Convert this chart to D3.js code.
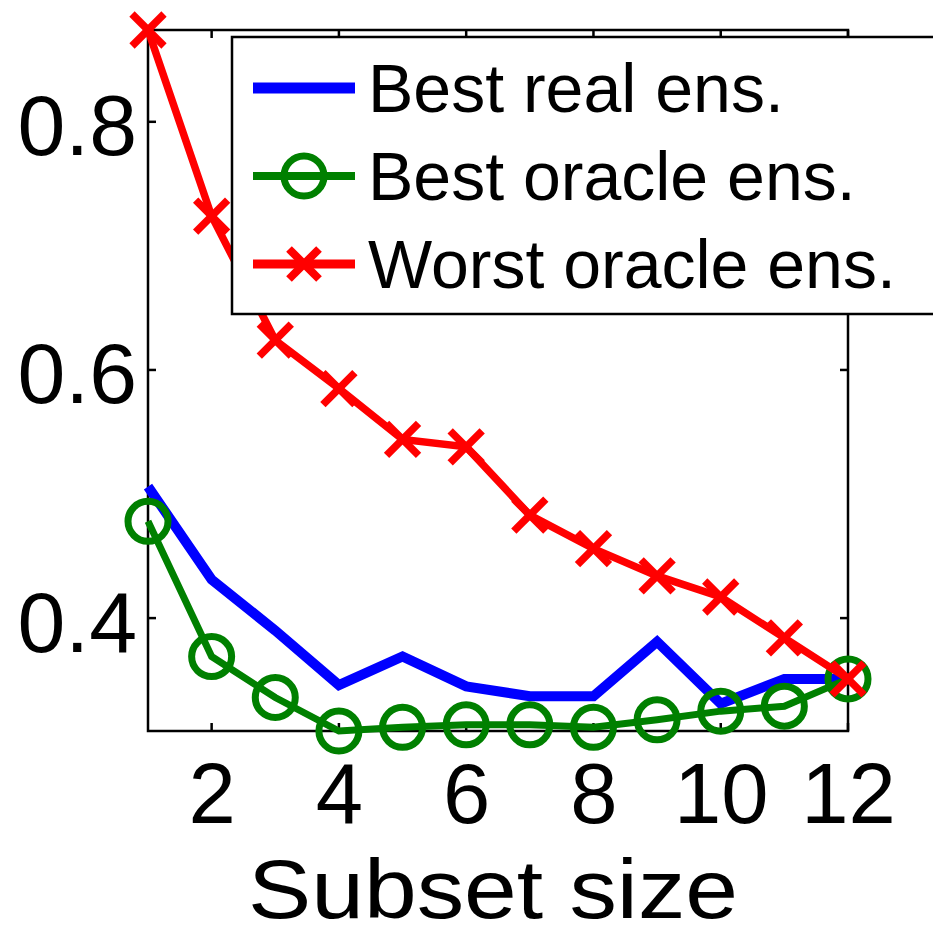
<!DOCTYPE html>
<html>
<head>
<meta charset="utf-8">
<script src="https://cdn.jsdelivr.net/npm/d3@7"></script>
<style>
  html, body { margin: 0; padding: 0; background: #fff; }
  svg { display: block; }
  text { font-family: "Liberation Sans", Arial, Helvetica, sans-serif; }
</style>
</head>
<body>
<svg id="chart" width="933" height="937"></svg>
<script>
// ---- data ----
const subsetSizes = [1, 2, 3, 4, 5, 6, 7, 8, 9, 10, 11, 12];
const bestReal    = [0.506, 0.431, 0.390, 0.346, 0.369, 0.345, 0.337, 0.337, 0.381, 0.331, 0.351, 0.351];
const bestOracle  = [0.478, 0.369, 0.336, 0.309, 0.312, 0.314, 0.314, 0.312, 0.318, 0.325, 0.329, 0.351];
const worstOracle = [0.874, 0.724, 0.624, 0.585, 0.544, 0.538, 0.483, 0.456, 0.434, 0.417, 0.384, 0.351];
const xTickValues = [2, 4, 6, 8, 10, 12];
const yTickValues = [0.4, 0.6, 0.8];
const yTickLabels = ["0.4", "0.6", "0.8"];
const seriesNames = ["Best real ens.", "Best oracle ens.", "Worst oracle ens."];
const xAxisLabel = "Subset size";

// ---- layout ----
const L = 148, R = 848, T = 30, B = 731;
const svg = d3.select("#chart");

const x = d3.scaleLinear().domain(d3.extent(subsetSizes)).range([L, R]);
const allY = bestReal.concat(bestOracle, worstOracle);
const y = d3.scaleLinear().domain(d3.extent(allY)).range([B, T]);

const axisW = 2.5;

// axes box
svg.append("rect").attr("x", L).attr("y", T).attr("width", R - L).attr("height", B - T)
  .attr("fill", "none").attr("stroke", "#000").attr("stroke-width", axisW);

// bottom axis labels
const xAxis = d3.axisBottom(x).tickValues(xTickValues).tickSize(0).tickPadding(0).tickFormat(d3.format("d"));
const gx = svg.append("g").attr("transform", `translate(0,${B})`).call(xAxis);
gx.select(".domain").remove();
gx.selectAll("text")
  .attr("dy", null).attr("y", 92)
  .attr("font-size", 85).attr("fill", "#000")
  .style("font-family", '"Liberation Sans", Arial, sans-serif');

// left axis labels
const yAxis = d3.axisLeft(y).tickValues(yTickValues).tickSize(0).tickPadding(0)
  .tickFormat((d, i) => yTickLabels[i]);
const gy = svg.append("g").attr("transform", `translate(${L},0)`).call(yAxis);
gy.select(".domain").remove();
gy.selectAll("text")
  .attr("dy", null).attr("x", -11).attr("y", 33)
  .attr("font-size", 86).attr("fill", "#000")
  .style("font-family", '"Liberation Sans", Arial, sans-serif');

// inward tick marks on all four sides
const tickLen = 8;
const gT = svg.append("g").attr("stroke", "#000").attr("stroke-width", axisW);
xTickValues.forEach(v => {
  gT.append("line").attr("x1", x(v)).attr("x2", x(v)).attr("y1", B).attr("y2", B - tickLen);
  gT.append("line").attr("x1", x(v)).attr("x2", x(v)).attr("y1", T).attr("y2", T + tickLen);
});
yTickValues.forEach(v => {
  gT.append("line").attr("x1", L).attr("x2", L + tickLen).attr("y1", y(v)).attr("y2", y(v));
  gT.append("line").attr("x1", R).attr("x2", R - tickLen).attr("y1", y(v)).attr("y2", y(v));
});

// x-axis label
svg.append("text")
  .attr("x", 493).attr("y", 918)
  .attr("text-anchor", "middle")
  .attr("font-size", 84)
  .attr("textLength", 490).attr("lengthAdjust", "spacingAndGlyphs")
  .attr("fill", "#000")
  .text(xAxisLabel);

// ---- series ----
const line = d3.line().x((d, i) => x(subsetSizes[i])).y(d => y(d));
const blue = "#0000ff", green = "#008000", red = "#ff0000";

svg.append("path").datum(bestReal).attr("d", line)
  .attr("fill", "none").attr("stroke", blue).attr("stroke-width", 10);

svg.append("path").datum(bestOracle).attr("d", line)
  .attr("fill", "none").attr("stroke", green).attr("stroke-width", 7);
svg.append("g").selectAll("circle").data(bestOracle).join("circle")
  .attr("cx", (d, i) => x(subsetSizes[i])).attr("cy", d => y(d)).attr("r", 20)
  .attr("fill", "none").attr("stroke", green).attr("stroke-width", 7);

svg.append("path").datum(worstOracle).attr("d", line)
  .attr("fill", "none").attr("stroke", red).attr("stroke-width", 7.5);
const xs = 16;
const gX = svg.append("g").attr("stroke", red).attr("stroke-width", 7.5);
worstOracle.forEach((d, i) => {
  const cx = x(subsetSizes[i]), cy = y(d);
  gX.append("line").attr("x1", cx - xs).attr("y1", cy - xs).attr("x2", cx + xs).attr("y2", cy + xs);
  gX.append("line").attr("x1", cx - xs).attr("y1", cy + xs).attr("x2", cx + xs).attr("y2", cy - xs);
});

// ---- legend ----
const legL = 232, legT = 37, legB = 314;
svg.append("rect").attr("x", legL).attr("y", legT).attr("width", 945 - legL).attr("height", legB - legT)
  .attr("fill", "#fff").attr("stroke", "#000").attr("stroke-width", 2.5);

const rows = [
  { name: seriesNames[0], color: blue, sw: 11, marker: null, ly: 88, base: 112 },
  { name: seriesNames[1], color: green, sw: 8, marker: "o", ly: 176, base: 200 },
  { name: seriesNames[2], color: red, sw: 9, marker: "x", ly: 264, base: 288 }
];
const sampX1 = 253, sampX2 = 355, textX = 368;
rows.forEach(r => {
  const g = svg.append("g");
  g.append("line").attr("x1", sampX1).attr("x2", sampX2).attr("y1", r.ly).attr("y2", r.ly)
    .attr("stroke", r.color).attr("stroke-width", r.sw);
  const mx = (sampX1 + sampX2) / 2;
  if (r.marker === "o") {
    g.append("circle").attr("cx", mx).attr("cy", r.ly).attr("r", 20)
      .attr("fill", "none").attr("stroke", r.color).attr("stroke-width", 7);
  } else if (r.marker === "x") {
    g.append("line").attr("x1", mx - 15).attr("y1", r.ly - 15).attr("x2", mx + 15).attr("y2", r.ly + 15)
      .attr("stroke", r.color).attr("stroke-width", 8);
    g.append("line").attr("x1", mx - 15).attr("y1", r.ly + 15).attr("x2", mx + 15).attr("y2", r.ly - 15)
      .attr("stroke", r.color).attr("stroke-width", 8);
  }
  g.append("text").attr("x", textX).attr("y", r.base)
    .attr("font-size", 68).attr("fill", "#000").text(r.name);
});
</script>
</body>
</html>
